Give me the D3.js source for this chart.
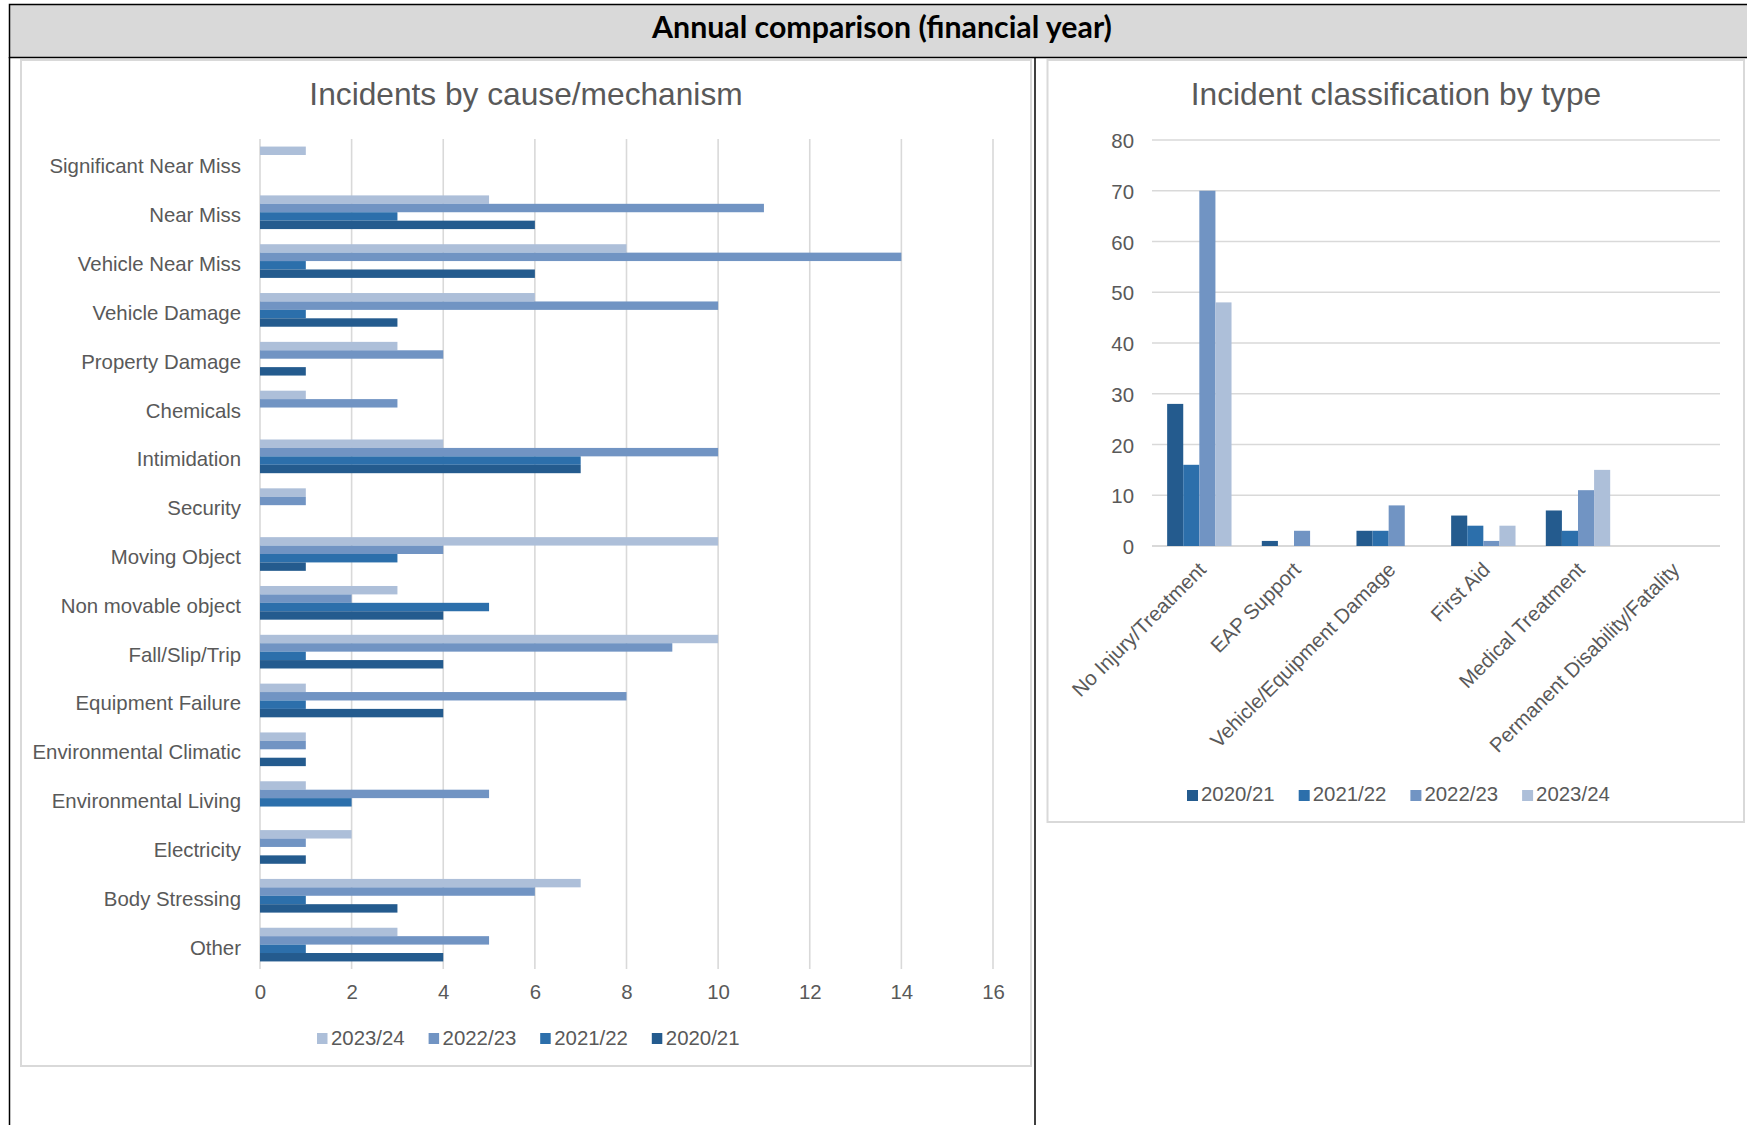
<!DOCTYPE html>
<html>
<head>
<meta charset="utf-8">
<script src="https://cdn.jsdelivr.net/npm/d3@7"></script>
<style>
  html, body { margin: 0; padding: 0; background: #ffffff; }
  svg { display: block; }
  text { font-family: "Liberation Sans", Arial, sans-serif; fill: #595959; }
</style>
</head>
<body>
<svg id="page" width="1747" height="1125"></svg>
<script>
// ---- Incidents by cause/mechanism (horizontal bars) ----
const causeCategories = [
  "Significant Near Miss", "Near Miss", "Vehicle Near Miss", "Vehicle Damage",
  "Property Damage", "Chemicals", "Intimidation", "Security", "Moving Object",
  "Non movable object", "Fall/Slip/Trip", "Equipment Failure",
  "Environmental Climatic", "Environmental Living", "Electricity",
  "Body Stressing", "Other"
];
const cause2023_24 = [1, 5, 8, 6, 3, 1, 4, 1, 10, 3, 10, 1, 1, 1, 2, 7, 3];
const cause2022_23 = [0, 11, 14, 10, 4, 3, 10, 1, 4, 2, 9, 8, 1, 5, 1, 6, 5];
const cause2021_22 = [0, 3, 1, 1, 0, 0, 7, 0, 3, 5, 1, 1, 0, 2, 0, 1, 1];
const cause2020_21 = [0, 6, 6, 3, 1, 0, 7, 0, 1, 4, 4, 4, 1, 0, 1, 3, 4];
const causeTicks = [0, 2, 4, 6, 8, 10, 12, 14, 16];

// ---- Incident classification by type (columns) ----
const typeCategories = [
  "No Injury/Treatment", "EAP Support", "Vehicle/Equipment Damage",
  "First Aid", "Medical Treatment", "Permanent Disability/Fatality"
];
const type2020_21 = [28, 1, 3, 6, 7, 0];
const type2021_22 = [16, 0, 3, 4, 3, 0];
const type2022_23 = [70, 3, 8, 1, 11, 0];
const type2023_24 = [48, 0, 0, 4, 15, 0];
const typeTicks = [0, 10, 20, 30, 40, 50, 60, 70, 80];

const years = ["2020/21", "2021/22", "2022/23", "2023/24"];
const yearColors = {
  "2020/21": "#245b8e",
  "2021/22": "#2c6fab",
  "2022/23": "#7194c3",
  "2023/24": "#adbfd9"
};

const svg = d3.select("#page");
const grid = "#d9d9d9";
const small = "20.4px";

// ---- Page frame and heading band ----
svg.append("rect")
  .attr("x", 9.5).attr("y", 4.5).attr("width", 1760).attr("height", 53)
  .attr("fill", "#d9d9d9").attr("stroke", "#000").attr("stroke-width", 1.5);
svg.append("line").attr("x1", 9.5).attr("x2", 9.5).attr("y1", 57).attr("y2", 1125)
  .attr("stroke", "#000").attr("stroke-width", 1.5);
svg.append("line").attr("x1", 1035).attr("x2", 1035).attr("y1", 57).attr("y2", 1125)
  .attr("stroke", "#000").attr("stroke-width", 1.5);

const heading = svg.append("text")
  .attr("x", 882).attr("y", 37.5)
  .attr("text-anchor", "middle")
  .style("font-family", "Lato, 'Open Sans', sans-serif")
  .style("font-weight", "bold")
  .style("fill", "#000")
  .style("font-size", "100px")
  .text("Annual comparison (financial year)");
// size the heading so it spans the same width as the band title
const hw = heading.node().getComputedTextLength();
heading.style("font-size", (100 * 460 / hw).toFixed(2) + "px");

// chart frames
svg.append("rect").attr("x", 21).attr("y", 60).attr("width", 1010).attr("height", 1006)
  .attr("fill", "#fff").attr("stroke", grid).attr("stroke-width", 2);
svg.append("rect").attr("x", 1047.5).attr("y", 60).attr("width", 696.5).attr("height", 762)
  .attr("fill", "#fff").attr("stroke", grid).attr("stroke-width", 2);

// ================= Left chart =================
{
  const g = svg.append("g");
  const x = d3.scaleLinear().domain([0, 16]).range([260, 993]);
  const y = d3.scaleBand().domain(causeCategories).range([139, 969])
    .paddingInner(0.31).paddingOuter(0.155);
  const order = ["2023/24", "2022/23", "2021/22", "2020/21"];
  const sub = d3.scaleBand().domain(order).range([0, y.bandwidth()]);
  const seriesValues = {
    "2023/24": cause2023_24, "2022/23": cause2022_23,
    "2021/22": cause2021_22, "2020/21": cause2020_21
  };

  g.append("text").attr("x", 526).attr("y", 105).attr("text-anchor", "middle")
    .style("font-size", "31.7px").text("Incidents by cause/mechanism");

  // vertical gridlines
  g.selectAll("line.grid").data(causeTicks).join("line")
    .attr("x1", d => x(d)).attr("x2", d => x(d))
    .attr("y1", 139).attr("y2", 969)
    .attr("stroke", grid).attr("stroke-width", 1.6);

  // bars
  const rows = [];
  causeCategories.forEach((c, i) => {
    order.forEach(s => rows.push({ c, s, v: seriesValues[s][i] }));
  });
  g.selectAll("rect.bar").data(rows.filter(d => d.v > 0)).join("rect")
    .attr("x", x(0))
    .attr("y", d => y(d.c) + sub(d.s))
    .attr("width", d => x(d.v) - x(0))
    .attr("height", sub.bandwidth())
    .attr("fill", d => yearColors[d.s]);

  // category labels
  g.selectAll("text.cat").data(causeCategories).join("text")
    .attr("x", 241).attr("y", d => y(d) + y.bandwidth() / 2 + 10)
    .attr("text-anchor", "end").style("font-size", small).text(d => d);

  // value axis
  const ax = g.append("g").attr("transform", "translate(0,982)")
    .call(d3.axisBottom(x).tickValues(causeTicks).tickSize(0).tickPadding(0));
  ax.select(".domain").remove();
  ax.selectAll("text").attr("dy", "16.5px")
    .style("font-size", small).style("fill", "#595959")
    .style("font-family", "'Liberation Sans', Arial, sans-serif");

  // legend
  const lx = d3.scaleBand().domain(order).range([317, 317 + 4 * 111.6]);
  const lg = g.selectAll("g.leg").data(order).join("g")
    .attr("transform", d => `translate(${lx(d)},1033)`);
  lg.append("rect").attr("width", 10.5).attr("height", 11).attr("fill", d => yearColors[d]);
  lg.append("text").attr("x", 14).attr("y", 11.5).style("font-size", small).text(d => d);
}

// ================= Right chart =================
{
  const g = svg.append("g");
  const x = d3.scaleBand().domain(typeCategories).range([1152, 1720])
    .paddingInner(0.32).paddingOuter(0.16);
  const y = d3.scaleLinear().domain([0, 80]).range([546, 140]);
  const sub = d3.scaleBand().domain(years).range([0, x.bandwidth()]);
  const seriesValues = {
    "2020/21": type2020_21, "2021/22": type2021_22,
    "2022/23": type2022_23, "2023/24": type2023_24
  };

  g.append("text").attr("x", 1396).attr("y", 105).attr("text-anchor", "middle")
    .style("font-size", "31.7px").text("Incident classification by type");

  // horizontal gridlines
  g.selectAll("line.grid").data(typeTicks).join("line")
    .attr("x1", 1152).attr("x2", 1720)
    .attr("y1", d => y(d)).attr("y2", d => y(d))
    .attr("stroke", grid).attr("stroke-width", d => d === 0 ? 2 : 1.6);

  // value axis labels
  const ay = g.append("g").attr("transform", "translate(1134,0)")
    .call(d3.axisLeft(y).tickValues(typeTicks).tickSize(0).tickPadding(0));
  ay.select(".domain").remove();
  ay.selectAll("text").attr("dy", "7.5px")
    .style("font-size", small).style("fill", "#595959")
    .style("font-family", "'Liberation Sans', Arial, sans-serif");

  // columns
  const rows = [];
  typeCategories.forEach((c, i) => {
    years.forEach(s => rows.push({ c, s, v: seriesValues[s][i] }));
  });
  g.selectAll("rect.bar").data(rows.filter(d => d.v > 0)).join("rect")
    .attr("x", d => x(d.c) + sub(d.s))
    .attr("y", d => y(d.v))
    .attr("width", sub.bandwidth())
    .attr("height", d => y(0) - y(d.v))
    .attr("fill", d => yearColors[d.s]);

  // rotated category labels
  g.selectAll("text.cat").data(typeCategories).join("text")
    .attr("transform", d => `translate(${x(d) + x.bandwidth() / 2 + 8},571) rotate(-45)`)
    .attr("text-anchor", "end").style("font-size", small).text(d => d);

  // legend
  const lx = d3.scaleBand().domain(years).range([1187, 1187 + 4 * 111.7]);
  const lg = g.selectAll("g.leg").data(years).join("g")
    .attr("transform", d => `translate(${lx(d)},790)`);
  lg.append("rect").attr("width", 11).attr("height", 11).attr("fill", d => yearColors[d]);
  lg.append("text").attr("x", 14).attr("y", 11).style("font-size", small).text(d => d);
}
</script>
</body>
</html>
